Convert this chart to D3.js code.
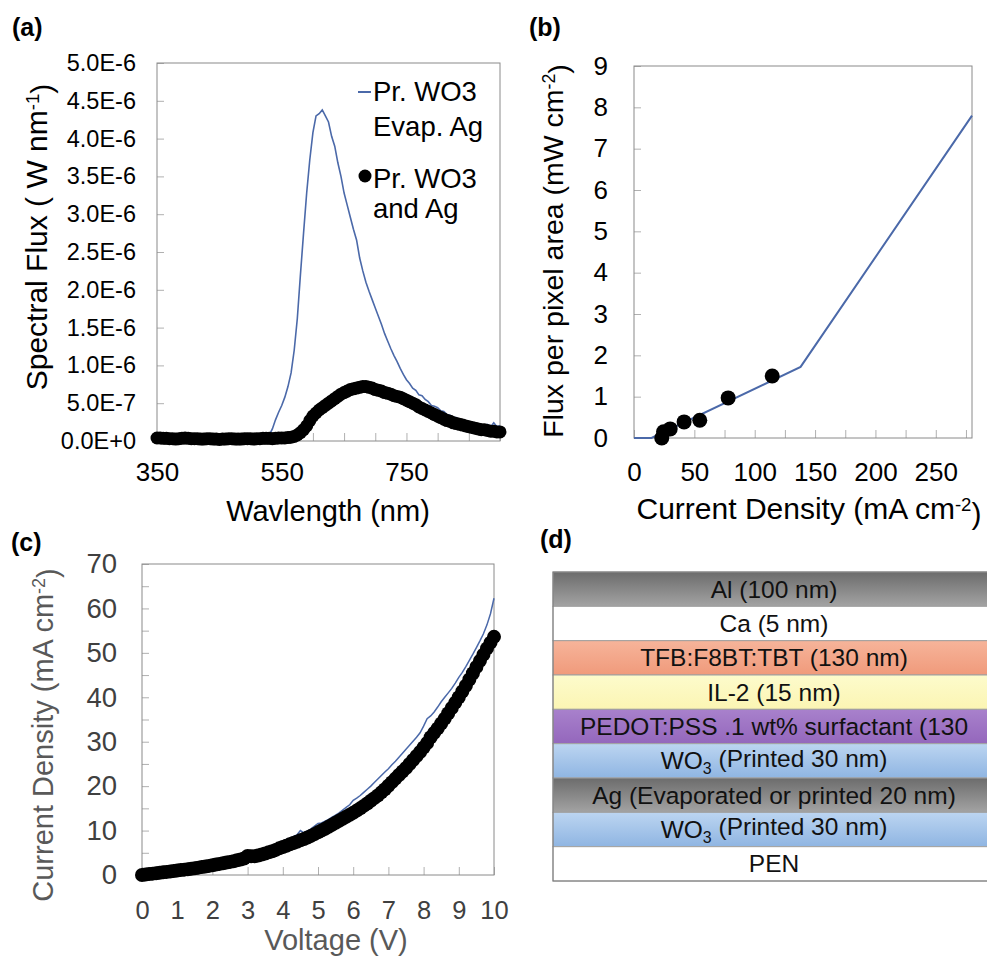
<!DOCTYPE html>
<html><head><meta charset="utf-8">
<script src="https://cdn.jsdelivr.net/npm/d3@7"></script>
<style>body{margin:0;background:#fff}</style></head>
<body><svg id="c" width="987" height="957"></svg>
<script>
// ---------- DATA ----------
// (a) spectral flux, values in units of 1E-6 W nm^-1
const wavelengths = d3.range(350, 901, 5);
const fluxPrintedAg = [
 0.04,0.04,0.035,0.035,0.03,0.03,0.025,0.03,0.035,0.04,
 0.035,0.03,0.03,0.03,0.025,0.025,0.03,0.03,0.025,0.025,
 0.02,0.025,0.025,0.03,0.03,0.025,0.025,0.025,0.03,0.03,
 0.03,0.025,0.03,0.03,0.035,0.035,0.035,0.03,0.035,0.04,
 0.04,0.04,0.045,0.05,0.06,0.08,0.11,0.15,0.2,0.27,
 0.33,0.37,0.41,0.44,0.47,0.5,0.53,0.56,0.59,0.62,
 0.64,0.66,0.68,0.69,0.7,0.71,0.72,0.72,0.71,0.7,
 0.68,0.67,0.66,0.64,0.63,0.62,0.6,0.59,0.58,0.56,
 0.54,0.52,0.5,0.48,0.45,0.43,0.41,0.39,0.37,0.35,
 0.33,0.31,0.29,0.27,0.26,0.24,0.23,0.22,0.21,0.2,
 0.19,0.18,0.17,0.16,0.15,0.15,0.14,0.13,0.13,0.12,
 0.12];
const fluxEvapAg = [
 0.02,0.02,0.01,0.02,0.02,0.01,0.02,0.02,0.02,0.01,
 0.02,0.01,0.02,0.02,0.01,0.02,0.02,0.01,0.02,0.02,
 0.02,0.02,0.01,0.02,0.02,0.02,0.01,0.02,0.02,0.02,
 0.02,0.02,0.02,0.03,0.03,0.04,0.08,0.16,0.28,0.38,
 0.47,0.58,0.72,0.9,1.2,1.62,2.2,2.75,3.28,3.72,
 4.08,4.3,4.33,4.38,4.3,4.22,4.03,3.9,3.68,3.5,
 3.28,3.12,2.96,2.8,2.66,2.42,2.25,2.1,1.98,1.87,
 1.76,1.65,1.54,1.42,1.32,1.22,1.13,1.05,0.96,0.88,
 0.81,0.76,0.7,0.67,0.61,0.6,0.55,0.52,0.47,0.46,
 0.44,0.4,0.39,0.35,0.34,0.31,0.31,0.28,0.28,0.25,
 0.25,0.23,0.24,0.21,0.22,0.2,0.22,0.19,0.24,0.19,
 0.2];
const fluxTicks = [0,0.5,1,1.5,2,2.5,3,3.5,4,4.5,5];
const fluxTickLabels = ["0.0E+0","5.0E-7","1.0E-6","1.5E-6","2.0E-6","2.5E-6","3.0E-6","3.5E-6","4.0E-6","4.5E-6","5.0E-6"];
const wlTicks = [350,400,450,500,550,600,650,700,750,800,850,900];
const wlLabels = [350,550,750];
const legendEvap = ["Pr. WO3", "Evap. Ag"];
const legendPrinted = ["Pr. WO3", "and Ag"];

// (b) flux per pixel area vs current density
const bLineJ = [0, 14.5, 138, 280];
const bLineFlux = [0, 0, 1.72, 7.8];
const bDotJ = [23, 24.5, 30, 41.5, 54.5, 78, 114.5];
const bDotFlux = [0, 0.15, 0.22, 0.39, 0.43, 0.97, 1.5];
const bYTicks = [0,1,2,3,4,5,6,7,8,9];
const bXTicks = [0,25,50,75,100,125,150,175,200,225,250,275];
const bXLabels = [0,50,100,150,200,250];

// (c) J-V
const voltages = d3.range(0, 101).map(i => i / 10);
const jPrintedAg = [
 0,0.1,0.2,0.3,0.4,0.5,0.6,0.7,0.8,0.9,
 1.0,1.1,1.2,1.3,1.4,1.5,1.65,1.8,1.9,2.05,
 2.2,2.35,2.5,2.65,2.8,2.95,3.1,3.3,3.5,3.7,
 4.3,4.2,4.2,4.4,4.6,4.85,5.1,5.35,5.65,6.0,
 6.3,6.6,6.9,7.2,7.5,7.8,8.1,8.45,8.8,9.2,
 9.6,10.0,10.4,10.85,11.3,11.75,12.2,12.65,13.1,13.55,
 14.0,14.5,15.0,15.55,16.1,16.7,17.3,17.9,18.6,19.3,
 20.1,20.9,21.7,22.5,23.3,24.1,25.0,25.9,26.8,27.7,
 28.7,29.7,31.0,32.0,33.0,34.1,35.2,36.4,37.6,38.8,
 40.0,41.3,42.6,44.0,45.4,46.8,48.2,49.6,51.0,52.3,
 53.6];
const jEvapAg = [
 0.1,0.2,0.3,0.4,0.5,0.6,0.7,0.8,0.9,1.0,
 1.1,1.2,1.3,1.4,1.5,1.65,1.8,1.95,2.1,2.25,
 2.4,2.55,2.7,2.85,3.0,3.2,3.4,3.6,3.8,4.0,
 4.2,4.4,4.6,4.8,5.0,5.3,5.8,6.6,7.0,7.3,
 7.6,8.0,8.3,8.7,9.0,10.0,9.5,9.9,10.4,11.0,
 11.6,11.7,12.1,12.5,13.0,13.5,14.0,14.6,15.2,15.8,
 16.8,17.3,17.9,18.6,19.3,20.0,20.8,21.6,22.4,23.2,
 23.9,24.8,25.6,26.5,27.4,28.3,29.2,30.1,31.0,32.0,
 33.5,35.2,35.8,36.7,37.8,39.0,40.0,41.0,42.0,43.2,
 44.5,45.6,46.9,48.3,49.7,51.2,52.7,54.3,56.3,58.8,
 62.3];
const cYTicks = [0,5,10,15,20,25,30,35,40,45,50,55,60,65,70];
const cYLabels = [0,10,20,30,40,50,60,70];
const cXTicks = [0,1,2,3,4,5,6,7,8,9,10];

// (d) device stack
const layerLabels = ["Al (100 nm)","Ca (5 nm)","TFB:F8BT:TBT (130 nm)","IL-2 (15 nm)",
  "PEDOT:PSS .1 wt% surfactant (130","WO_3 (Printed 30 nm)","Ag (Evaporated or printed 20 nm)",
  "WO_3 (Printed 30 nm)","PEN"];
const layerTop = ["#6c6c6c","#ffffff","#f6b49a","#fdfbcc","#a881cc","#bcd5f1","#6c6c6c","#bcd5f1","#ffffff"];
const layerBottom = ["#a3a3a3","#ffffff","#f09a7b","#fbf5b3","#9467bc","#8fb5e2","#a3a3a3","#8fb5e2","#ffffff"];

// ---------- DRAW ----------
const FONT = '"Liberation Sans", Arial, Helvetica, sans-serif';
const svg = d3.select("#c").attr("font-family", FONT);
svg.append("rect").attr("width",987).attr("height",957).attr("fill","#fff");
const BLUE = "#4b69a9", TICK = "#b0b0b0", FRAME = "#8a8a8a";

function styleAxis(g, size, color) {
  g.attr("font-family", FONT).attr("font-size", size);
  g.select(".domain").remove();
  g.selectAll(".tick line").attr("stroke", TICK).attr("stroke-width", 1);
  g.selectAll(".tick text").attr("fill", color);
}
function panelLabel(t, x, y) {
  svg.append("text").attr("x", x).attr("y", y).attr("font-weight", "bold")
     .attr("font-size", 25).text(t);
}
function supTitle(sel, main, sup, tail) {
  sel.append("tspan").text(main);
  sel.append("tspan").attr("dy", "-0.45em").attr("font-size", "0.62em").text(sup);
  sel.append("tspan").attr("dy", "0.45em").text(tail);
}

// ===== (a) =====
{
  const x = d3.scaleLinear([350, 900], [157, 500]);
  const y = d3.scaleLinear([0, 5], [441, 63]);
  const g = svg.append("g");
  g.append("g").attr("transform", "translate(157,0)")
    .call(d3.axisLeft(y).tickValues(fluxTicks).tickFormat((d, i) => fluxTickLabels[i]).tickSize(-7).tickPadding(21))
    .call(s => styleAxis(s, 23.5, "#000"));
  g.append("g").attr("transform", "translate(0,441)")
    .call(d3.axisBottom(x).tickValues(wlTicks).tickFormat(d => wlLabels.includes(d) ? d : "").tickSize(-8).tickPadding(22))
    .call(s => styleAxis(s, 26, "#000"));
  g.append("rect").attr("x", 157).attr("y", 63).attr("width", 343).attr("height", 378)
    .attr("fill", "none").attr("stroke", FRAME);
  const line = d3.line().x((d, i) => x(wavelengths[i])).y(d => y(d));
  g.append("path").datum(fluxEvapAg).attr("d", line).attr("fill", "none")
    .attr("stroke", BLUE).attr("stroke-width", 1.6);
  g.selectAll("circle.a").data(fluxPrintedAg).join("circle")
    .attr("cx", (d, i) => x(wavelengths[i])).attr("cy", d => y(d)).attr("r", 6.5).attr("fill", "#000");
  // legend
  g.append("line").attr("x1", 358).attr("x2", 371).attr("y1", 92).attr("y2", 92)
    .attr("stroke", BLUE).attr("stroke-width", 2);
  g.append("circle").attr("cx", 365).attr("cy", 176).attr("r", 6.5).attr("fill", "#000");
  legendEvap.forEach((t, k) => g.append("text").attr("x", 373).attr("y", 101 + k * 35).attr("font-size", 27.5).text(t));
  legendPrinted.forEach((t, k) => g.append("text").attr("x", 373).attr("y", 188 + k * 30).attr("font-size", 27.5).text(t));
  g.append("text").attr("x", 328).attr("y", 521).attr("text-anchor", "middle").attr("font-size", 29).text("Wavlength (nm)");
  const yt = g.append("text").attr("transform", "translate(47,237) rotate(-90)")
    .attr("text-anchor", "middle").attr("font-size", 30);
  supTitle(yt, "Spectral Flux ( W nm", "-1", ")");
  panelLabel("(a)", 12, 36);
}

// ===== (b) =====
{
  const x = d3.scaleLinear([0, 280], [634, 972]);
  const y = d3.scaleLinear([0, 9], [438, 66]);
  const g = svg.append("g");
  g.append("g").attr("transform", "translate(634,0)")
    .call(d3.axisLeft(y).tickValues(bYTicks).tickFormat(d3.format("d")).tickSize(-7).tickPadding(26))
    .call(s => styleAxis(s, 26, "#000"));
  g.append("g").attr("transform", "translate(0,438)")
    .call(d3.axisBottom(x).tickValues(bXTicks).tickFormat(d => bXLabels.includes(d) ? d : "").tickSize(-8).tickPadding(25))
    .call(s => styleAxis(s, 26, "#000"));
  g.append("rect").attr("x", 634).attr("y", 66).attr("width", 338).attr("height", 372)
    .attr("fill", "none").attr("stroke", FRAME);
  g.append("path").datum(bLineJ).attr("d", d3.line().x(d => x(d)).y((d, i) => y(bLineFlux[i])))
    .attr("fill", "none").attr("stroke", BLUE).attr("stroke-width", 2);
  g.selectAll("circle.b").data(bDotJ).join("circle")
    .attr("cx", d => x(d)).attr("cy", (d, i) => y(bDotFlux[i])).attr("r", 7.5).attr("fill", "#000");
  const xt = g.append("text").attr("x", 809).attr("y", 519).attr("text-anchor", "middle").attr("font-size", 30);
  supTitle(xt, "Current Density (mA cm", "-2", ")");
  const yt = g.append("text").attr("transform", "translate(563,251) rotate(-90)")
    .attr("text-anchor", "middle").attr("font-size", 28.5);
  supTitle(yt, "Flux per pixel area (mW cm", "-2", ")");
  panelLabel("(b)", 529, 36);
}

// ===== (c) =====
{
  const x = d3.scaleLinear([0, 10], [142, 494]);
  const y = d3.scaleLinear([0, 70], [875, 564]);
  const g = svg.append("g");
  g.append("g").attr("transform", "translate(142,0)")
    .call(d3.axisLeft(y).tickValues(cYTicks).tickFormat(d => cYLabels.includes(d) ? d : "").tickSize(-7).tickPadding(25))
    .call(s => styleAxis(s, 27.5, "#404040"));
  g.append("g").attr("transform", "translate(0,875)")
    .call(d3.axisBottom(x).tickValues(cXTicks).tickFormat(d3.format("d")).tickSize(-8).tickPadding(26))
    .call(s => styleAxis(s, 25.5, "#404040"));
  g.append("rect").attr("x", 142).attr("y", 564).attr("width", 352).attr("height", 311)
    .attr("fill", "none").attr("stroke", FRAME);
  g.append("path").datum(jEvapAg).attr("d", d3.line().x((d, i) => x(voltages[i])).y(d => y(d)))
    .attr("fill", "none").attr("stroke", BLUE).attr("stroke-width", 1.5);
  g.selectAll("circle.c").data(jPrintedAg).join("circle")
    .attr("cx", (d, i) => x(voltages[i])).attr("cy", d => y(d)).attr("r", 7).attr("fill", "#000");
  g.append("text").attr("x", 336).attr("y", 950).attr("text-anchor", "middle").attr("font-size", 29)
    .attr("fill", "#595959").text("Voltage (V)");
  const yt = g.append("text").attr("transform", "translate(53,735) rotate(-90)")
    .attr("text-anchor", "middle").attr("font-size", 29).attr("fill", "#595959");
  supTitle(yt, "Current Density (mA cm", "-2", ")");
  panelLabel("(c)", 11, 551);
}

// ===== (d) =====
{
  const band = d3.scaleBand().domain(d3.range(layerLabels.length)).range([572, 881]).padding(0);
  const defs = svg.append("defs");
  layerLabels.forEach((t, i) => {
    const lg = defs.append("linearGradient").attr("id", "lg" + i).attr("x1", 0).attr("x2", 0).attr("y1", 0).attr("y2", 1);
    lg.append("stop").attr("offset", "0%").attr("stop-color", layerTop[i]);
    lg.append("stop").attr("offset", "100%").attr("stop-color", layerBottom[i]);
  });
  const g = svg.append("g");
  const rows = g.selectAll("g.layer").data(layerLabels).join("g");
  rows.append("rect").attr("x", 553).attr("y", (d, i) => band(i)).attr("width", 442)
    .attr("height", band.bandwidth()).attr("fill", (d, i) => `url(#lg${i})`)
    .attr("stroke", "#a0a0a0").attr("stroke-width", 1);
  rows.each(function(d, i) {
    const t = d3.select(this).append("text").attr("x", 774).attr("y", band(i) + band.bandwidth() / 2 + 8.5)
      .attr("text-anchor", "middle").attr("font-size", 24.5).attr("fill", "#111");
    const parts = d.split(/_(\d)/);
    if (parts.length === 1) { t.text(d); return; }
    t.append("tspan").text(parts[0]);
    t.append("tspan").attr("dy", "0.3em").attr("font-size", "0.65em").text(parts[1]);
    t.append("tspan").attr("dy", "-0.3em").text(parts[2]);
  });
  g.append("rect").attr("x", 553).attr("y", 572).attr("width", 442).attr("height", 309)
    .attr("fill", "none").attr("stroke", "#7a7a7a");
  panelLabel("(d)", 540, 548);
}
</script>
</body></html>
